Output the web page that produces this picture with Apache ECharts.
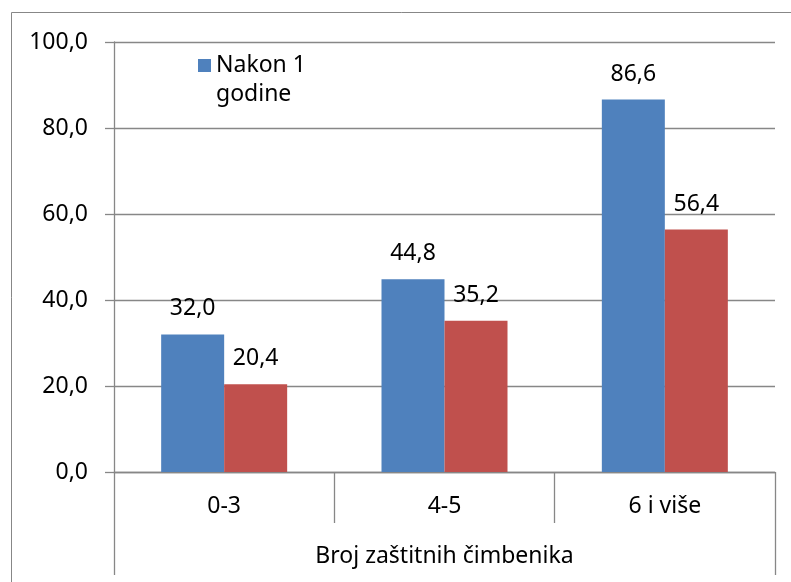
<!DOCTYPE html>
<html>
<head>
<meta charset="utf-8">
<script src="https://cdn.jsdelivr.net/npm/echarts@6/dist/echarts.min.js"></script>
<style>
  html, body { margin: 0; padding: 0; background: #fff; }
  #chart { width: 791px; height: 582px; }
</style>
</head>
<body>
<div id="chart"></div>
<script>
// data
const categories = ['0-3', '4-5', '6 i više'];
const groupLabel = ['Broj zaštitnih čimbenika'];
const firstName = 'Nakon 1 godine';
const firstValues = [32.0, 44.8, 86.6];
const secondName = 'Serija 2';
const secondValues = [20.4, 35.2, 56.4];

const gray = '#878787';
const font = 'Noto Sans';
const fs = 23;
const fmt = (v) => Number(v).toFixed(1).replace('.', ',');

const chart = echarts.init(document.getElementById('chart'));

const barLabel = {
  show: true,
  position: 'top',
  distance: 14,
  fontFamily: font,
  fontSize: fs,
  color: '#000',
  formatter: (p) => fmt(p.value)
};

chart.setOption({
  animation: false,
  textStyle: { fontFamily: font },
  grid: { left: 114, top: 42, right: 16, bottom: 110, containLabel: false },
  graphic: [
    {
      // outer chart frame, cut off at right and bottom like the reference
      type: 'rect',
      shape: { x: 11.5, y: 12.5, width: 820, height: 620 },
      style: { fill: 'none', stroke: gray, lineWidth: 1 },
      silent: true,
      z: -1
    }
  ],
  legend: {
    data: [firstName],
    left: 198,
    top: 22,
    padding: 0,
    icon: 'rect',
    itemWidth: 13,
    itemHeight: 13,
    // blank first line keeps the icon level with "Nakon 1"
    formatter: () => ' \nNakon 1\ngodine',
    textStyle: {
      fontFamily: font,
      fontSize: fs,
      color: '#000',
      lineHeight: 29
    }
  },
  xAxis: [
    {
      type: 'category',
      data: categories,
      position: 'bottom',
      axisLine: { show: true, lineStyle: { color: gray, width: 1.3 } },
      axisTick: { show: true, interval: 0, length: 51, lineStyle: { color: gray, width: 1.3 } },
      axisLabel: { margin: 23, fontFamily: font, fontSize: fs, color: '#000', interval: 0 }
    },
    {
      type: 'category',
      data: groupLabel,
      position: 'bottom',
      offset: 51,
      axisLine: { show: false },
      axisTick: { show: true, length: 52, lineStyle: { color: gray, width: 1.3 } },
      axisLabel: { margin: 22, fontFamily: font, fontSize: fs, color: '#000' }
    }
  ],
  yAxis: {
    type: 'value',
    min: 0,
    max: 100,
    interval: 20,
    axisLine: { show: true, lineStyle: { color: gray, width: 1.3 } },
    axisTick: { show: true, length: 9, lineStyle: { color: gray, width: 1.3 } },
    axisLabel: { margin: 26, fontFamily: font, fontSize: fs, color: '#000', formatter: fmt },
    splitLine: { show: true, lineStyle: { color: gray, width: 1.3 } }
  },
  series: [
    {
      name: firstName,
      type: 'bar',
      xAxisIndex: 0,
      data: firstValues,
      barWidth: 63,
      barGap: '0%',
      itemStyle: { color: '#4F81BD' },
      label: barLabel
    },
    {
      name: secondName,
      type: 'bar',
      xAxisIndex: 0,
      data: secondValues,
      barWidth: 63,
      barGap: '0%',
      itemStyle: { color: '#C0504D' },
      label: barLabel
    }
  ]
});
</script>
</body>
</html>
